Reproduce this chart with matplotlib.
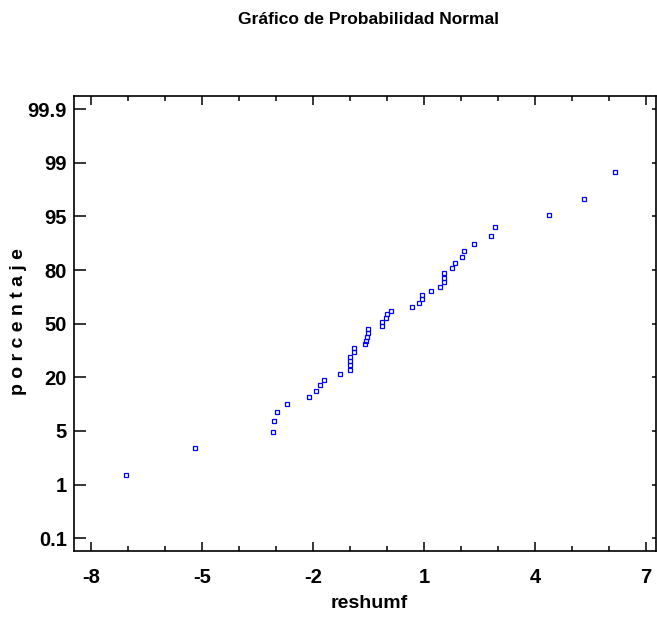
import matplotlib
matplotlib.use('Agg')
import matplotlib.pyplot as plt
from matplotlib.ticker import MultipleLocator
from statistics import NormalDist

# residuos ordenados (reshumf)
reshumf = [-7.06, -5.18, -3.09, -3.04, -2.98, -2.70, -2.11, -1.93, -1.81, -1.69,
           -1.26, -1.00, -1.00, -1.00, -1.00, -0.90, -0.90, -0.59, -0.56, -0.54,
           -0.50, -0.50, -0.12, -0.12, -0.03, 0.00, 0.10, 0.68, 0.86, 0.94,
           0.96, 1.18, 1.44, 1.55, 1.55, 1.55, 1.75, 1.83, 2.04, 2.09,
           2.35, 2.80, 2.93, 4.37, 5.34, 6.17]

# etiquetas del eje de probabilidad
etiquetas_y = ['0.1', '1', '5', '20', '50', '80', '95', '99', '99.9']
etiquetas_x = ['-8', '-5', '-2', '1', '4', '7']

plt.rcParams['font.family'] = ['Liberation Sans Narrow', 'Liberation Sans', 'DejaVu Sans']
plt.rcParams['font.weight'] = 'bold'

# posiciones de Blom -> cuantiles normales
n = len(reshumf)
datos = sorted(reshumf)
z = [NormalDist().inv_cdf((i + 1 - 0.375) / (n + 0.25)) for i in range(n)]

fig = plt.figure(figsize=(6.57, 6.19), dpi=100)
ax = fig.add_axes([0.1126, 0.1098, 0.886, 0.7356])

ax.plot(datos, z, linestyle='none', marker='s', markersize=3.2,
        markerfacecolor='none', markeredgecolor='#0000ff', markeredgewidth=0.9)

ax.set_xlim(-8.459, 7.275)
ax.set_ylim(-3.312, 3.322)

# eje x
ax.set_xticks([float(v) for v in etiquetas_x])
ax.set_xticklabels(etiquetas_x)
ax.xaxis.set_minor_locator(MultipleLocator(1))

# eje y (marcas equiespaciadas)
paso = 0.781
ax.set_yticks([(k - 4) * paso for k in range(len(etiquetas_y))])
ax.set_yticklabels(etiquetas_y)

ax.tick_params(axis='x', which='major', direction='in', length=6.5, width=1.1,
               top=True, bottom=True, labelsize=14.5, pad=12)
ax.tick_params(axis='x', which='minor', direction='in', length=3.4, width=1.1,
               top=True, bottom=True)
ax.tick_params(axis='y', which='major', direction='in', length=8.5, width=1.1,
               left=True, right=True, labelsize=14.5, pad=5)
for t in ax.yaxis.get_major_ticks():
    t.tick2line.set_markersize(3)

for s in ax.spines.values():
    s.set_linewidth(1.2)

ax.set_xlabel('reshumf', fontsize=14, fontweight='bold')
ax.xaxis.set_label_coords(0.507, -0.097)
ax.set_ylabel('p o r c e n t a j e', fontsize=14, fontweight='bold')
ax.yaxis.set_label_coords(-0.081, 0.503)

fig.text(0.561, 0.969, 'Gráfico de Probabilidad Normal', ha='center', va='center',
         fontsize=12.5, fontweight='bold')

fig.savefig('out.png', dpi=100)
